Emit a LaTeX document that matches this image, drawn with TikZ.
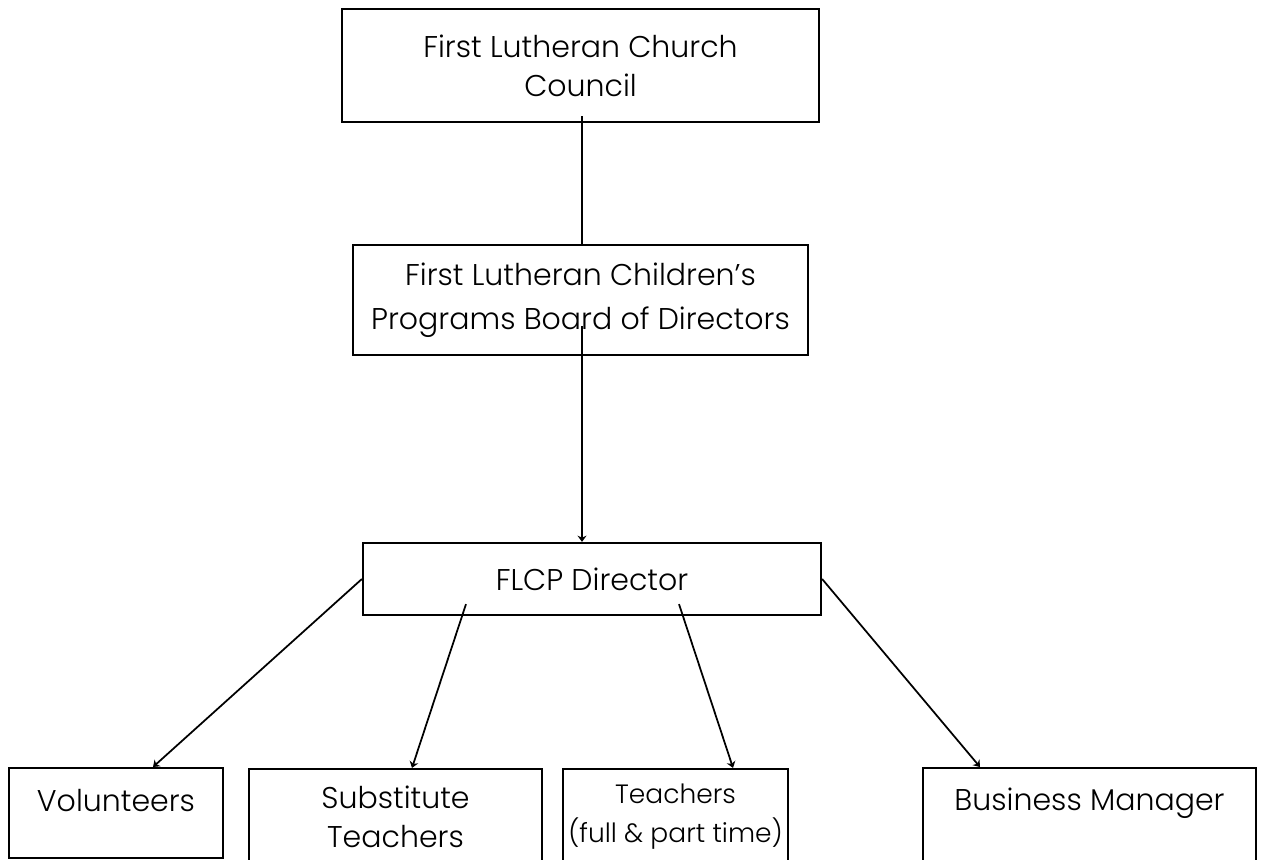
\documentclass[tikz,border=0pt]{standalone}
\usepackage{fontspec}
\IfFontExistsTF{Poppins Light}{\setmainfont{Poppins Light}}{\setmainfont{Poppins}}
\usetikzlibrary{arrows.meta}
\tikzset{
  unit/.style={draw,line width=0.9pt,rectangle,inner sep=0pt,align=center,font=\fontsize{12}{15.6}\selectfont},
  link/.style={line width=0.7pt},
  tip/.style={link,-{Stealth[length=2.5pt,width=3.6pt]}}
}
\begin{document}
\begin{tikzpicture}[x=0.4pt,y=-0.4pt]
        \useasboundingbox (0,0) rectangle (1284,859);
        % top of the chart
        \node[unit,minimum width=190.8pt,minimum height=45.2pt] (council) at (580.5,65.5) {First Lutheran Church\\Council};
        \node[unit,minimum width=182pt,minimum height=44pt,font=\fontsize{12}{17.6}\selectfont] (board) at (580.5,300) {First Lutheran Children’s\\Programs Board of Directors};
        \node[unit,minimum width=183.2pt,minimum height=28.8pt] (flcp) at (592,579) {FLCP Director};
        % bottom row
        \node[unit,minimum width=85.6pt,text height=17.2pt,text depth=18.8pt,anchor=north] (vol) at (116,767) {Volunteers};
        \node[unit,minimum width=117.2pt,minimum height=38.4pt] (subst) at (395.5,817) {Substitute\\Teachers};
        \node[unit,minimum width=90pt,minimum height=38.4pt,font=\fontsize{10.6}{15.6}\selectfont] (teach) at (675.5,817) {Teachers\\(full \& part time)};
        \node[unit,minimum width=133.2pt,text height=16.8pt,text depth=32pt,anchor=north] (bus) at (1089.5,767) {Business Manager};
        \draw[link] ([xshift=0.6pt,yshift=2.8pt]council.south) -- ([xshift=0.6pt]board.north);
        \draw[tip] ([xshift=0.6pt,yshift=12pt]board.south) -- ([xshift=-4pt]flcp.north);
        \draw[tip] (flcp.west) -- ([xshift=14.8pt]vol.north);
        \draw[tip] ([xshift=-50.4pt,yshift=4.8pt]flcp.south) -- ([xshift=6.6pt]subst.north);
        \draw[tip] ([xshift=34.8pt,yshift=4.8pt]flcp.south) -- ([xshift=23pt]teach.north);
        \draw[tip] (flcp.east) -- ([xshift=-43.8pt]bus.north);
\end{tikzpicture}
\end{document}
